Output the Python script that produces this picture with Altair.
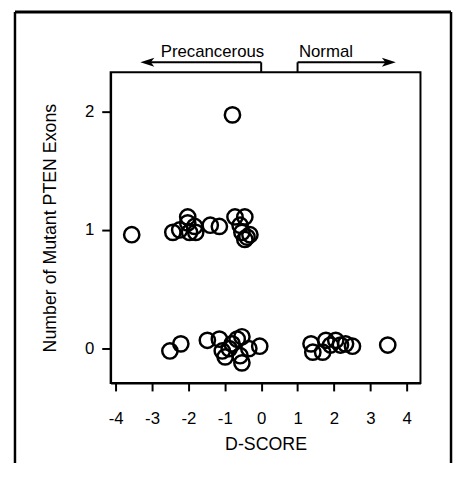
import altair as alt
import pandas as pd

# ---- data ----
d_score = [
    -0.79,
    -3.56, -2.43, -2.24, -2.02, -2.02, -1.97, -1.80, -1.83, -1.40, -1.15,
    -0.72, -0.45, -0.58, -0.53, -0.39, -0.45, -0.31,
    -2.51, -2.21, -1.48, -1.15, -1.07, -0.99, -0.80, -0.66, -0.53, -0.58,
    -0.53, -0.34, -0.04, -0.88,
    1.37, 1.42, 1.69, 1.78, 1.91, 2.05, 2.18, 2.32, 2.51, 3.48,
]
mutant_exons = [
    1.97,
    0.96, 0.98, 1.00, 1.11, 1.06, 0.98, 0.98, 1.03, 1.04, 1.03,
    1.11, 1.11, 1.04, 0.98, 0.94, 0.92, 0.96,
    -0.02, 0.04, 0.07, 0.08, -0.02, -0.07, 0.04, 0.08, 0.10, -0.06,
    -0.12, 0.00, 0.02, 0.00,
    0.04, -0.03, -0.03, 0.07, 0.03, 0.07, 0.03, 0.04, 0.02, 0.03,
]
x_ticks = [-4, -3, -2, -1, 0, 1, 2, 3, 4]
y_ticks = [0, 1, 2]

# annotation arrows (D-score units)
arrow_labels = ["Precancerous", "Normal"]
arrow_label_x = [-1.34, 1.78]
arrow_start = [0, 1]
arrow_end = [-3.13, 3.51]

# outer figure border, left and right edges (D-score units)
border_x = [-6.77, 5.22]

FONT = "Liberation Sans"
points = pd.DataFrame({"d": d_score, "n": mutant_exons})

x_scale = alt.Scale(domain=[-4.14, 4.38], nice=False, zero=False)
y_scale = alt.Scale(domain=[-0.29, 2.33], nice=False, zero=False)

x_axis = alt.Axis(
    values=x_ticks, title="D-SCORE", grid=False, labelOverlap=False,
    labelExpr="'' + datum.value",
    tickSize=8, tickWidth=2, tickColor="black",
    domainColor="black", domainWidth=2,
    labelFont=FONT, labelFontSize=17, labelColor="black", labelPadding=20,
    titleFont=FONT, titleFontSize=18, titleFontWeight="normal", titleColor="black",
    titleY=62, titleBaseline="middle",
)
y_axis = alt.Axis(
    values=y_ticks, title="Number of Mutant PTEN Exons", grid=False, labelOverlap=False,
    labelExpr="'' + datum.value",
    tickSize=9, tickWidth=2, tickColor="black",
    domainColor="black", domainWidth=2,
    labelFont=FONT, labelFontSize=17, labelColor="black", labelPadding=8,
    titleFont=FONT, titleFontSize=18, titleFontWeight="normal", titleColor="black",
    titleAngle=270, titleX=-61, titleY=157.5, titleAlign="center", titleBaseline="middle",
)

X = alt.X("d:Q", scale=x_scale, axis=x_axis)

pts = alt.Chart(points).mark_point(
    shape="circle", size=240, strokeWidth=2.5, color="black", filled=False, opacity=1
).encode(
    x=X,
    y=alt.Y("n:Q", scale=y_scale, axis=y_axis),
)

arr = pd.DataFrame({"d": arrow_start, "d2": arrow_end})
vert = alt.Chart(arr).mark_rule(color="black", strokeWidth=2).encode(
    x=X, y=alt.value(-10), y2=alt.value(0)
)
horiz = alt.Chart(arr).mark_rule(color="black", strokeWidth=2).encode(
    x=X, x2="d2:Q", y=alt.value(-10)
)
left_head = alt.Chart(pd.DataFrame({"d": [arrow_end[0]]})).mark_point(
    shape="M -1 0 L 1 -0.65 L 0.5 0 L 1 0.65 Z", size=200, filled=True,
    color="black", opacity=1
).encode(x=X, y=alt.value(-10))
right_head = alt.Chart(pd.DataFrame({"d": [arrow_end[1]]})).mark_point(
    shape="M 1 0 L -1 -0.65 L -0.5 0 L -1 0.65 Z", size=200, filled=True,
    color="black", opacity=1
).encode(x=X, y=alt.value(-10))

labels = alt.Chart(pd.DataFrame({"d": arrow_label_x, "t": arrow_labels})).mark_text(
    font=FONT, fontSize=17, color="black", align="center", baseline="alphabetic"
).encode(x=X, y=alt.value(-15), text="t:N")

border = pd.DataFrame({"d": [border_x[0]], "d2": [border_x[1]]})
border_sides = alt.Chart(pd.DataFrame({"d": border_x})).mark_rule(
    color="black", strokeWidth=2.5
).encode(x=X, y=alt.value(-61), y2=alt.value(430))
border_top = alt.Chart(border).mark_rect(color="black", opacity=1).encode(
    x=X, x2="d2:Q", y=alt.value(-62.5), y2=alt.value(-59.5)
)

chart = alt.layer(
    border_sides, border_top, vert, horiz, left_head, right_head, labels, pts
).properties(
    width=314, height=315,
    autosize=alt.AutoSizeParams(type="none"),
    padding={"left": 104, "top": 62, "right": 36, "bottom": 78},
    background="white",
).configure_view(stroke="black", strokeWidth=2)

chart.save("out.html", embed_options={"renderer": "svg", "actions": False})
